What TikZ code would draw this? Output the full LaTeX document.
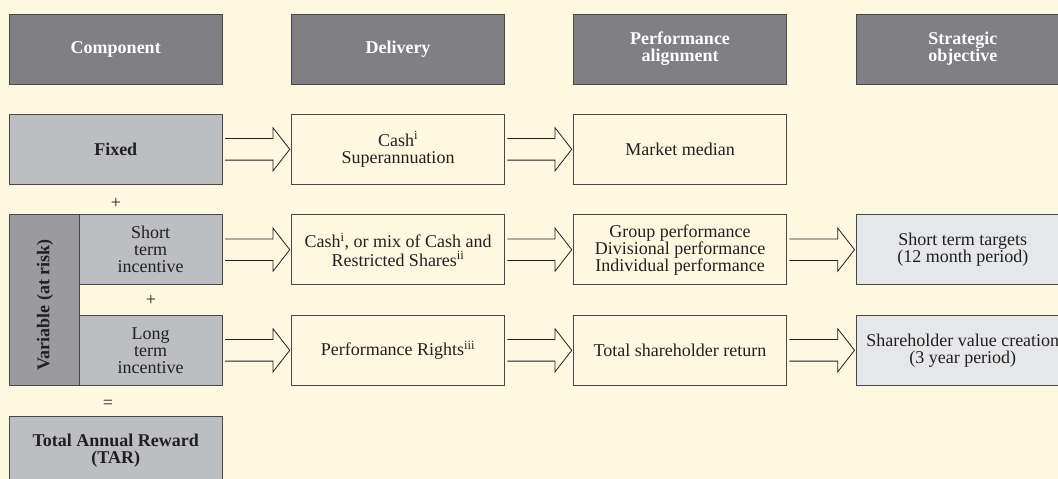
\documentclass[tikz,border=0pt]{standalone}
\usepackage{fontspec}
\setmainfont{Liberation Serif}
\usetikzlibrary{calc}
\definecolor{bgc}{HTML}{FFF8E1}
\definecolor{hdrc}{HTML}{808084}
\definecolor{compc}{HTML}{BDBEC2}
\definecolor{varc}{HTML}{9B9B9F}
\definecolor{stratc}{HTML}{E6E7E9}
\definecolor{linec}{HTML}{48484A}
\definecolor{txtc}{HTML}{231F20}
\newcommand{\hollowarr}[2]{%
  \draw[arrline] ($(#1.east)+(3,-10.8)$) -- ($(#2.west)+(-18.7,-10.8)$) -- ($(#2.west)+(-18.7,-21.5)$) -- ($(#2.west)+(-2,0)$) -- ($(#2.west)+(-18.7,21.5)$) -- ($(#2.west)+(-18.7,10.8)$) -- ($(#1.east)+(3,10.8)$);}
\begin{document}
\begin{tikzpicture}[x=1pt,y=-1pt,
  base/.style={draw=linec, line width=0.9pt, inner sep=0pt, outer sep=0pt, minimum width=212.5pt, minimum height=70pt, align=center, text=txtc, font=\fontsize{18}{17}\selectfont},
  hdr/.style={base, fill=hdrc, text=white, font=\fontsize{18}{17}\selectfont\bfseries},
  comp/.style={base, fill=compc},
  plain/.style={base, fill=bgc},
  strat/.style={base, fill=stratc},
  sign/.style={inner sep=0pt, text=txtc, font=\fontsize{18}{17}\selectfont},
  arrline/.style={draw=txtc, line width=0.8pt, line join=miter}]
\path[use as bounding box, fill=bgc] (0,0) rectangle (1058,479);
\begin{scope}
\clip (0,0) rectangle (1058,479);
% headers
\node[hdr] (h1) at (115.75,49) {Component};
\node[hdr] (h2) at (398,49) {Delivery};
\node[hdr] (h3) at (680,49) {Performance\\alignment};
\node[hdr] (h4) at (962.75,49) {Strategic\\objective};
% fixed row
\node[comp, font=\fontsize{18}{17}\selectfont\bfseries] (f1) at (115.75,149.3) {Fixed};
\node[plain] (f2) at (398,149.3) {Cash\textsuperscript{i}\\Superannuation};
\node[plain] (f3) at (680,149.3) {Market median};
\node[sign] (p1) at (116,203) {+};
% variable
\node[base, fill=varc, minimum width=69.8pt, minimum height=170.6pt] (var) at (44.4,300) {};
\node[sign, rotate=90, font=\fontsize{18}{17}\selectfont\bfseries] (vartxt) at (45,305) {Variable (at risk)};
\node[comp, minimum width=142.7pt] (s1) at (150.65,249.7) {Short\\term\\incentive};
\node[sign] (p2) at (151,300.5) {+};
\node[comp, minimum width=142.7pt] (l1) at (150.65,350.3) {Long\\term\\incentive};
\node[plain] (s2) at (398,249.7) {Cash\textsuperscript{i}, or mix of Cash and\\Restricted Shares\textsuperscript{ii}};
\node[plain] (s3) at (680,249.7) {Group performance\\Divisional performance\\Individual performance};
\node[strat] (s4) at (962.75,249.7) {Short term targets\\(12 month period)};
\node[plain] (l2) at (398,350.3) {Performance Rights\textsuperscript{iii}};
\node[plain] (l3) at (680,350.3) {Total shareholder return};
\node[strat] (l4) at (962.75,350.3) {Shareholder value creation\\(3 year period)};
\node[sign] (eq) at (108,404) {=};
\node[comp, font=\fontsize{18}{17}\selectfont\bfseries] (tar) at (115.75,451) {Total Annual Reward\\(TAR)};
% arrows
\hollowarr{f1}{f2}
\hollowarr{f2}{f3}
\hollowarr{s1}{s2}
\hollowarr{s2}{s3}
\hollowarr{s3}{s4}
\hollowarr{l1}{l2}
\hollowarr{l2}{l3}
\hollowarr{l3}{l4}
\end{scope}
\end{tikzpicture}
\end{document}
